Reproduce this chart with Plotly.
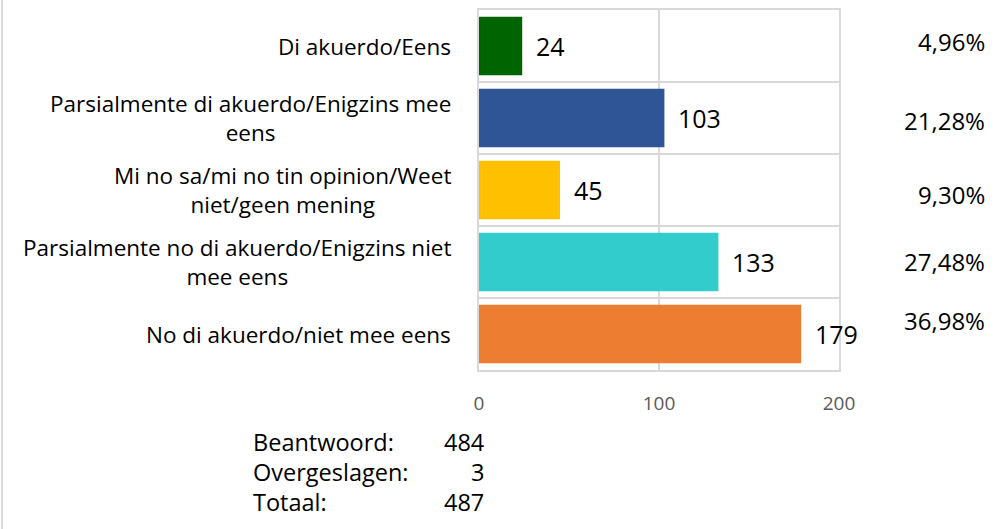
import plotly.graph_objects as go

# ---- data ----
category_lines = [
    ["Di akuerdo/Eens"],
    ["Parsialmente di akuerdo/Enigzins mee", "eens"],
    ["Mi no sa/mi no tin opinion/Weet", "niet/geen mening"],
    ["Parsialmente no di akuerdo/Enigzins niet", "mee eens"],
    ["No di akuerdo/niet mee eens"],
]
counts = [24, 103, 45, 133, 179]
percent_labels = ["4,96%", "21,28%", "9,30%", "27,48%", "36,98%"]
bar_colors = ["#006400", "#2F5597", "#FFC000", "#33CCCC", "#ED7D31"]
x_ticks = [0, 100, 200]
stat_names = ["Beantwoord:", "Overgeslagen:", "Totaal:"]
stat_values = [484, 3, 487]

categories = [" ".join(l) for l in category_lines]
FONT = "Open Sans"
GRID = "#D9D9D9"

fig = go.Figure()
fig.add_trace(go.Bar(
    y=categories, x=counts, orientation="h",
    marker=dict(color=bar_colors, line=dict(width=0)),
    width=0.81, hoverinfo="skip",
))

annotations = []
# category labels (centered text, right-anchored block)
for cat, lines in zip(categories, category_lines):
    annotations.append(dict(
        x=0, xref="paper", xanchor="right", xshift=-26,
        y=cat, yref="y", yanchor="middle",
        text="<br>".join(lines), align="center", showarrow=False,
        font=dict(family=FONT, size=22.5, color="#000000"),
    ))
# value labels
for cat, v in zip(categories, counts):
    annotations.append(dict(
        x=v, xref="x", xanchor="left", xshift=12,
        y=cat, yref="y", yanchor="middle",
        text=str(v), showarrow=False,
        font=dict(family=FONT, size=25, color="#000000"),
    ))
# percentage column
pct_shift = [5, -2, -4, 1, 14]
for cat, p, s in zip(categories, percent_labels, pct_shift):
    annotations.append(dict(
        x=1, xref="paper", xanchor="right", xshift=148,
        y=cat, yref="y", yanchor="middle", yshift=s,
        text=p, showarrow=False,
        font=dict(family=FONT, size=24, color="#000000"),
    ))
# summary stats
stat_y = [-0.199, -0.284, -0.367]
for n, v, yy in zip(stat_names, stat_values, stat_y):
    annotations.append(dict(
        x=0, xref="paper", xanchor="left", xshift=-228,
        y=yy, yref="paper", yanchor="middle",
        text=n, showarrow=False,
        font=dict(family=FONT, size=23.5, color="#000000"),
    ))
    annotations.append(dict(
        x=0, xref="paper", xanchor="right", xshift=7,
        y=yy, yref="paper", yanchor="middle",
        text=str(v), showarrow=False,
        font=dict(family=FONT, size=23.5, color="#000000"),
    ))

fig.update_layout(
    width=996, height=529,
    margin=dict(l=479, r=157, t=8, b=159),
    paper_bgcolor="white", plot_bgcolor="white",
    showlegend=False,
    annotations=annotations,
    xaxis=dict(
        range=[0, 200], tickvals=x_ticks, showgrid=True, gridcolor=GRID, gridwidth=2,
        zeroline=False, showline=True, linecolor=GRID, linewidth=2, mirror=True,
        ticks="", ticklabelstandoff=15,
        tickfont=dict(family=FONT, size=19, color="#595959"),
    ),
    yaxis=dict(
        categoryorder="array", categoryarray=categories, autorange="reversed",
        tickson="boundaries", showgrid=True, gridcolor=GRID, gridwidth=2,
        showticklabels=False, ticks="", showline=True, linecolor=GRID,
        linewidth=2, mirror=True, zeroline=False,
    ),
    shapes=[dict(type="line", xref="paper", yref="paper",
                 x0=-1.325, x1=-1.325, y0=-1, y1=2,
                 line=dict(color=GRID, width=2))],
)

fig.write_html("out.html", config={"displayModeBar": False},
               post_script="document.body.style.margin='0';")
